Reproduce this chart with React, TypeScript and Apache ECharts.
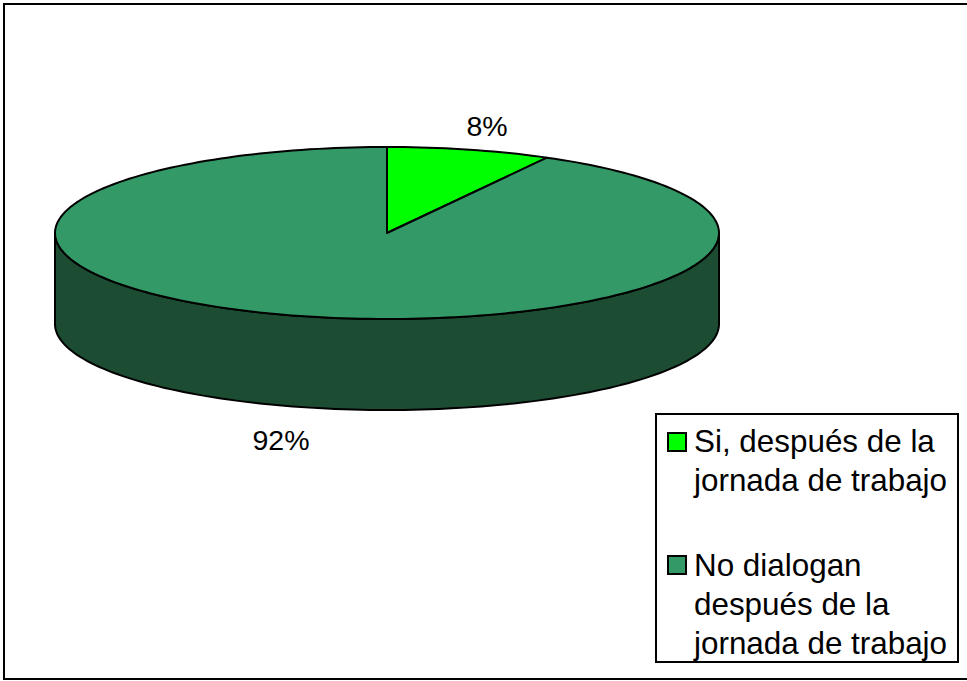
import React, { useEffect, useRef } from "react";
import * as echarts from "echarts";

const categories = ["Si, después de la\njornada de trabajo", "No dialogan\ndespués de la\njornada de trabajo"];
const values = [8, 92];
const percentLabels = ["8%", "92%"];
const topColors = ["#00ff00", "#339966"];
const sideColors = ["#008000", "#1c4d33"];

const FONT = '"Liberation Sans", Arial, sans-serif';
const CX = 387, CY = 233, RX = 332, RY = 86, DEPTH = 91;
const LABEL_POS: number[][] = [[487, 126], [281, 440]];

const pt = (deg: number, dy = 0): number[] => {
  const r = (deg * Math.PI) / 180;
  return [CX + RX * Math.sin(r), CY - RY * Math.cos(r) + dy];
};
const arc = (a: number, b: number, dy = 0): number[][] => {
  const out: number[][] = [];
  const n = Math.max(2, Math.ceil(Math.abs(b - a) / 1.5));
  for (let i = 0; i <= n; i++) out.push(pt(a + ((b - a) * i) / n, dy));
  return out;
};

export default function App() {
  const ref = useRef<HTMLDivElement>(null);
  useEffect(() => {
    const chart = echarts.init(ref.current!, null, { renderer: "svg" });
    const total = values.reduce((s, v) => s + v, 0);
    const renderItem = (params: any, api: any) => {
      const i = params.dataIndex;
      const before = values.slice(0, i).reduce((s, v) => s + v, 0);
      const start = (before / total) * 360;
      const end = start + (api.value(0) / total) * 360;
      const children: any[] = [];
      const line = { stroke: "#000", lineWidth: 2, lineJoin: "round" };
      const wStart = Math.max(start, 90);
      const wEnd = Math.min(end, 270);
      if (wEnd > wStart) {
        children.push({
          type: "polygon",
          shape: { points: [...arc(wStart, wEnd), ...arc(wEnd, wStart, DEPTH)] },
          style: { fill: sideColors[i], ...line },
        });
      }
      children.push({
        type: "polygon",
        shape: { points: [[CX, CY], ...arc(start, end)] },
        style: { fill: topColors[i], ...line },
      });
      children.push({
        type: "text",
        style: {
          text: percentLabels[i],
          x: LABEL_POS[i][0],
          y: LABEL_POS[i][1],
          align: "center",
          verticalAlign: "middle",
          font: `28.5px ${FONT}`,
          fill: "#000",
        },
      });
      return { type: "group", children };
    };
    const legendItem = (i: number, swatchY: number, textY: number) => [
      {
        type: "rect",
        shape: { x: 668, y: swatchY, width: 18, height: 18 },
        style: { fill: topColors[i], stroke: "#000", lineWidth: 2 },
      },
      {
        type: "text",
        style: {
          text: categories[i],
          x: 694,
          y: textY,
          font: `31.4px ${FONT}`,
          lineHeight: 39,
          fill: "#000",
        },
      },
    ];
    chart.setOption({
      animation: false,
      backgroundColor: "#fff",
      graphic: [
        {
          type: "rect",
          z: -1,
          shape: { x: 4, y: 4, width: 970, height: 675 },
          style: { fill: "#fff", stroke: "#000", lineWidth: 2 },
        },
        {
          type: "rect",
          shape: { x: 656, y: 414, width: 302, height: 248 },
          style: { fill: "#fff", stroke: "#000", lineWidth: 2 },
        },
        ...legendItem(0, 433, 422),
        ...legendItem(1, 556, 546),
      ],
      series: [
        {
          type: "custom",
          coordinateSystem: "none",
          silent: true,
          renderItem,
          data: values.map((v) => [v]),
        },
      ],
    });
    return () => chart.dispose();
  }, []);
  return <div ref={ref} style={{ position: "fixed", left: 0, top: 0, width: 967, height: 681 }} />;
}
